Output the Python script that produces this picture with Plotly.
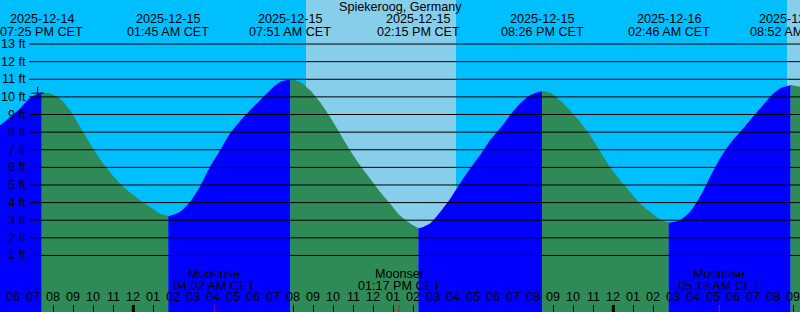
import plotly.graph_objects as go
import pandas as pd

LOCATION = "Spiekeroog, Germany"
TZ = "CET"
X_START = "2025-12-14 17:20"
X_END = "2025-12-16 09:20"
Y_MIN, Y_MAX = -2.21, 15.5

# Tide curve samples every 30 min, in feet
SAMPLE_TIMES = pd.date_range(X_START, X_END, freq="30min")
SAMPLE_LEVELS = [
    8.39, 8.85, 9.34, 9.95, 10.22, 10.19, 9.90, 9.24, 8.30, 7.35,
    6.46, 5.74, 5.08, 4.57, 4.14, 3.76, 3.38, 3.25, 3.48, 4.04,
    4.92, 6.03, 6.97, 7.92, 8.62, 9.24, 9.81, 10.38, 10.85, 11.00,
    10.85, 10.38, 9.71, 8.87, 7.92, 6.97, 6.12, 5.37, 4.62, 3.95,
    3.27, 2.83, 2.56, 2.82, 3.45, 4.20, 5.08, 5.93, 6.69, 7.54,
    8.20, 8.96, 9.62, 10.09, 10.30, 10.24, 9.81, 9.24, 8.58, 7.82,
    6.92, 6.03, 5.27, 4.61, 3.95, 3.48, 3.06, 2.87, 3.00, 3.48,
    4.33, 5.46, 6.50, 7.35, 8.01, 8.68, 9.34, 10.00, 10.47, 10.66,
    10.57,
]

# High / low tide events
EXTREME_TIMES = ["2025-12-14 19:25", "2025-12-15 01:45", "2025-12-15 07:51",
                 "2025-12-15 14:15", "2025-12-15 20:26", "2025-12-16 02:46",
                 "2025-12-16 08:52"]
EXTREME_LEVELS = [10.25, 3.24, 11.02, 2.55, 10.32, 2.86, 10.67]

# Sun (daylight) intervals
DAY_STARTS = ["2025-12-15 08:38", "2025-12-16 08:41"]
DAY_ENDS = ["2025-12-15 16:08", "2025-12-16 16:08"]

# Moon events
MOON_TIMES = ["2025-12-15 04:02", "2025-12-15 13:17", "2025-12-16 05:18"]
MOON_NAMES = ["Moonrise", "Moonset", "Moonrise"]

MIDNIGHTS = ["2025-12-15 00:00", "2025-12-16 00:00"]
HOUR_TICKS = pd.date_range("2025-12-14 18:00", "2025-12-16 09:00", freq="h")
FT_TICKS = list(range(1, 14))

MARK_TIME = "2025-12-14 19:13"
MARK_LEVEL = 10.21

NIGHT = "#00BFFF"
DAY = "#87CEEB"
FLOOD = "#0000FF"
EBB = "#2E8B57"
FONT = dict(family="Liberation Sans, Arial, sans-serif", size=12.6, color="black")

df = pd.concat([
    pd.DataFrame({"t": SAMPLE_TIMES, "v": SAMPLE_LEVELS}),
    pd.DataFrame({"t": pd.to_datetime(EXTREME_TIMES), "v": EXTREME_LEVELS}),
]).sort_values("t").drop_duplicates("t").reset_index(drop=True)

bounds = [pd.Timestamp(X_START)] + list(pd.to_datetime(EXTREME_TIMES)) + [pd.Timestamp(X_END)]

fig = go.Figure()
for a, b in zip(bounds[:-1], bounds[1:]):
    seg = df[(df.t >= a) & (df.t <= b)]
    rising = seg.v.iloc[-1] > seg.v.iloc[0]
    col = FLOOD if rising else EBB
    fig.add_trace(go.Scatter(x=[a, b], y=[Y_MIN, Y_MIN], mode="lines",
                             line=dict(width=0), hoverinfo="skip", showlegend=False))
    fig.add_trace(go.Scatter(x=seg.t, y=seg.v, mode="lines", fill="tonexty",
                             fillcolor=col,
                             line=dict(width=0, color=col, shape="spline", smoothing=0.7),
                             hoverinfo="skip", showlegend=False))

fig.add_trace(go.Scatter(x=[MARK_TIME], y=[MARK_LEVEL], mode="markers",
                         marker=dict(symbol="cross-thin", size=9,
                                     line=dict(color="black", width=1)),
                         showlegend=False, hoverinfo="skip"))

shapes = []
for s, e in zip(DAY_STARTS, DAY_ENDS):
    shapes.append(dict(type="rect", xref="x", yref="paper", x0=s, x1=e, y0=0, y1=1,
                       fillcolor=DAY, line=dict(width=0), layer="below"))
for lv in FT_TICKS:
    shapes.append(dict(type="line", xref="paper", yref="y", x0=29 / 800, x1=1,
                       y0=lv, y1=lv, line=dict(color="black", width=1), layer="above"))
for m in MIDNIGHTS:
    shapes.append(dict(type="line", xref="x", yref="paper", x0=m, x1=m,
                       y0=0, y1=7 / 312, line=dict(color="black", width=3), layer="above"))
for m in MOON_TIMES:
    shapes.append(dict(type="line", xref="x", yref="paper", x0=m, x1=m,
                       y0=0, y1=7 / 312, line=dict(color="red", width=1), layer="above"))

ann = []
ann.append(dict(text=LOCATION, xref="paper", yref="paper", x=0.5, y=1 - 7.3 / 312,
                xanchor="center", yanchor="middle", showarrow=False, font=FONT))
for t in pd.to_datetime(EXTREME_TIMES):
    ann.append(dict(text=t.strftime("%Y-%m-%d"), xref="x", yref="paper", x=t,
                    y=1 - 19.3 / 312, xanchor="center", yanchor="middle",
                    showarrow=False, font=FONT))
    ann.append(dict(text=t.strftime("%I:%M %p ") + TZ, xref="x", yref="paper", x=t,
                    y=1 - 31.7 / 312, xanchor="center", yanchor="middle",
                    showarrow=False, font=FONT))
for lv in FT_TICKS:
    ann.append(dict(text=f"{lv} ft", xref="paper", yref="y", x=27.5 / 800, y=lv,
                    xanchor="right", yanchor="middle", showarrow=False, font=FONT))
for t, name in zip(pd.to_datetime(MOON_TIMES), MOON_NAMES):
    ann.append(dict(text=name, xref="x", yref="paper", x=t, y=1 - 274 / 312,
                    xanchor="center", yanchor="middle", showarrow=False, font=FONT))
    ann.append(dict(text=t.strftime("%I:%M %p ") + TZ, xref="x", yref="paper", x=t,
                    y=1 - 285.7 / 312, xanchor="center", yanchor="middle",
                    showarrow=False, font=FONT))
for t in HOUR_TICKS:
    ann.append(dict(text=t.strftime("%I"), xref="x", yref="paper", x=t,
                    y=1 - 297.3 / 312, xanchor="center", yanchor="middle",
                    showarrow=False, font=FONT))

fig.update_layout(
    width=800, height=312, margin=dict(l=0, r=0, t=0, b=0, pad=0),
    plot_bgcolor=NIGHT, paper_bgcolor=NIGHT,
    shapes=shapes, annotations=ann, showlegend=False,
    xaxis=dict(type="date", range=[X_START, X_END], showgrid=False, zeroline=False,
               showline=False, tickvals=list(HOUR_TICKS), showticklabels=False,
               ticks="inside", ticklen=7, tickwidth=1, tickcolor="black",
               layer="above traces", fixedrange=True),
    yaxis=dict(range=[Y_MIN, Y_MAX], showgrid=False, zeroline=False, showline=False,
               showticklabels=False, ticks="", fixedrange=True),
)

fig.write_html("out.html", config={"displayModeBar": False})
